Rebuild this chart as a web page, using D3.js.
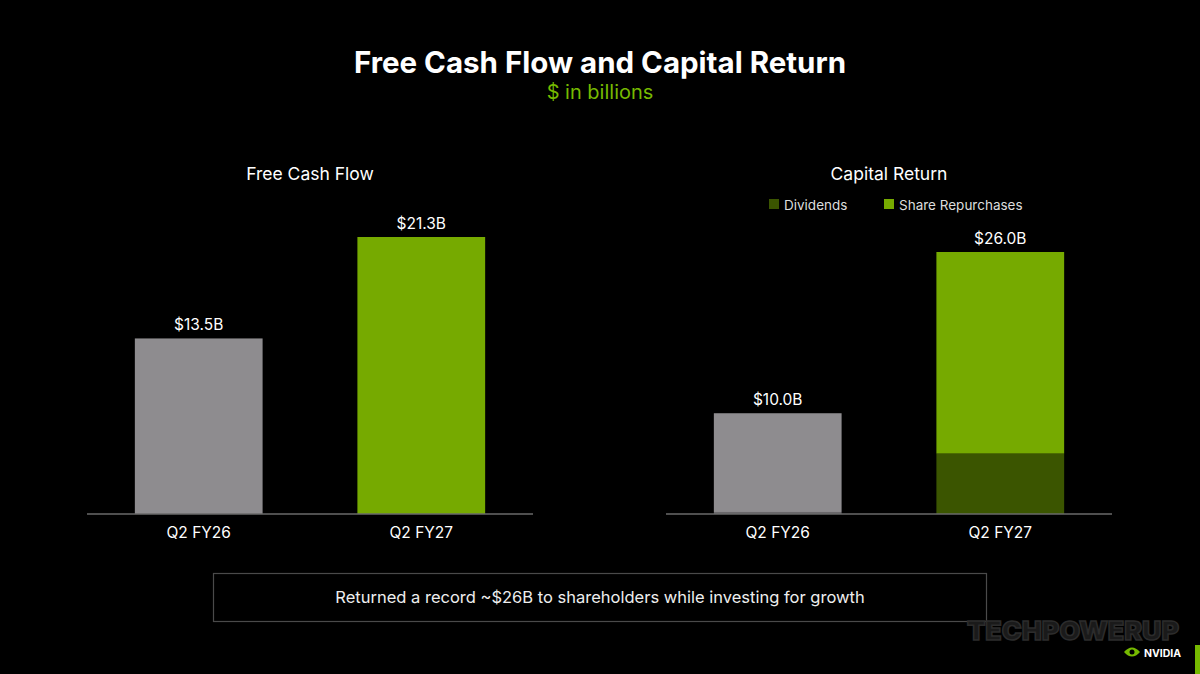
<!DOCTYPE html>
<html><head><meta charset="utf-8">
<script src="https://cdn.jsdelivr.net/npm/d3@7"></script>
<style>
html,body{margin:0;padding:0;background:#000;}
svg{display:block;font-family:Inter,"Noto Sans",sans-serif;}
</style></head>
<body>
<svg id="c" width="1200" height="674"></svg>
<script>
const periods = ["Q2 FY26", "Q2 FY27"];
const fcfValues = [13.5, 21.3];
const fcfLabels = ["$13.5B", "$21.3B"];
const dividends = [0.2, 6.0];
const repurchases = [9.8, 20.0];
const capLabels = ["$10.0B", "$26.0B"];
const legendItems = ["Dividends", "Share Repurchases"];

const svg = d3.select("#c");
const W = 1200, H = 674;
svg.append("rect").attr("width", W).attr("height", H).attr("fill", "#000");

// Titles
svg.append("text").attr("x", 600).attr("y", 73).attr("text-anchor", "middle")
  .attr("fill", "#fff").attr("font-size", 29.5).attr("font-weight", 700)
  .text("Free Cash Flow and Capital Return");
svg.append("text").attr("x", 600).attr("y", 99).attr("text-anchor", "middle")
  .attr("fill", "#76b900").attr("font-size", 20)
  .text("$ in billions");

const baseY = 514;
const green = "#76aa00", grey = "#8e8c8f", darkGreen = "#3b5500", darkGrey = "#6a686b";

function panel(x0, x1, title, titleY) {
  const x = d3.scaleBand().domain(periods).range([x0, x1]).paddingInner(0.426).paddingOuter(0.215);
  const g = svg.append("g");
  g.append("text").attr("x", (x0 + x1) / 2).attr("y", titleY).attr("text-anchor", "middle")
    .attr("fill", "#fff").attr("font-size", 17.5).text(title);
  return {x, g};
}

// Left: Free Cash Flow
const L = panel(87, 533, "Free Cash Flow", 180);
const yL = d3.scaleLinear().domain([0, 21.3]).range([baseY, 237]);
L.g.selectAll("rect.bar").data(periods).join("rect").attr("class", "bar")
  .attr("x", d => L.x(d)).attr("width", L.x.bandwidth())
  .attr("y", (d, i) => yL(fcfValues[i])).attr("height", (d, i) => yL(0) - yL(fcfValues[i]))
  .attr("fill", (d, i) => i === 0 ? grey : green);
L.g.selectAll("text.val").data(periods).join("text").attr("class", "val")
  .attr("x", d => L.x(d) + L.x.bandwidth() / 2).attr("y", (d, i) => yL(fcfValues[i]) - 8)
  .attr("text-anchor", "middle").attr("fill", "#fff").attr("font-size", 15.5)
  .text((d, i) => fcfLabels[i]);
const axL = L.g.append("g").attr("transform", `translate(0,${baseY})`)
  .call(d3.axisBottom(L.x).tickSize(0).tickPadding(13));
axL.select(".domain").attr("stroke", "#6a6a6a").attr("stroke-width", 1.5).attr("d", `M87,0H533`);
axL.selectAll("text").attr("fill", "#fff").attr("font-size", 15.5).attr("font-family", "Inter,'Noto Sans',sans-serif");

// Right: Capital Return
const R = panel(666, 1112, "Capital Return", 180);
const totals = periods.map((d, i) => dividends[i] + repurchases[i]);
const yR = d3.scaleLinear().domain([0, 26.0]).range([baseY, 252]);
const stackData = periods.map((p, i) => ({p, dividends: dividends[i], repurchases: repurchases[i]}));
const stack = d3.stack().keys(["dividends", "repurchases"])(stackData);
R.g.selectAll("g.layer").data(stack).join("g").attr("class", "layer")
  .selectAll("rect").data(d => d.map(v => ({v, key: d.key}))).join("rect")
  .attr("x", d => R.x(d.v.data.p)).attr("width", R.x.bandwidth())
  .attr("y", d => yR(d.v[1])).attr("height", d => yR(d.v[0]) - yR(d.v[1]))
  .attr("fill", d => {
    const first = d.v.data.p === periods[0];
    if (d.key === "dividends") return first ? darkGrey : darkGreen;
    return first ? grey : green;
  });
R.g.selectAll("text.val").data(periods).join("text").attr("class", "val")
  .attr("x", d => R.x(d) + R.x.bandwidth() / 2).attr("y", (d, i) => yR(totals[i]) - 8)
  .attr("text-anchor", "middle").attr("fill", "#fff").attr("font-size", 15.5)
  .text((d, i) => capLabels[i]);
const axR = R.g.append("g").attr("transform", `translate(0,${baseY})`)
  .call(d3.axisBottom(R.x).tickSize(0).tickPadding(13));
axR.select(".domain").attr("stroke", "#6a6a6a").attr("stroke-width", 1.5).attr("d", `M666,0H1112`);
axR.selectAll("text").attr("fill", "#fff").attr("font-size", 15.5).attr("font-family", "Inter,'Noto Sans',sans-serif");

// Legend
const legX = [769, 884];
const legColors = [darkGreen, green];
const leg = svg.append("g");
legendItems.forEach((t, i) => {
  leg.append("rect").attr("x", legX[i]).attr("y", 199).attr("width", 10).attr("height", 10).attr("fill", legColors[i]);
  leg.append("text").attr("x", legX[i] + 15).attr("y", 209.5).attr("fill", "#ddd").attr("font-size", 13.5).text(t);
});

// Callout box
svg.append("rect").attr("x", 213.5).attr("y", 573.5).attr("width", 773).attr("height", 48)
  .attr("fill", "none").attr("stroke", "#4a4a4a").attr("stroke-width", 1.2);
svg.append("text").attr("x", 600).attr("y", 603).attr("text-anchor", "middle")
  .attr("fill", "#eee").attr("font-size", 16.5)
  .text("Returned a record ~$26B to shareholders while investing for growth");

// Watermark
svg.append("text").attr("x", 967).attr("y", 640)
  .attr("fill", "#1a1a1a").attr("stroke", "#2c2c2c").attr("stroke-width", 1.5)
  .attr("font-size", 26).attr("font-weight", 900)
  .attr("textLength", 212).attr("lengthAdjust", "spacingAndGlyphs")
  .text("TECHPOWERUP");

// NVIDIA logo
svg.append("path").attr("d", "M1124,652 q8,-9 16,0 q-8,9 -16,0 z").attr("fill", "#76b900");
svg.append("circle").attr("cx", 1132).attr("cy", 652).attr("r", 2.5).attr("fill", "#000");
svg.append("text").attr("x", 1144).attr("y", 657).attr("fill", "#fff").attr("font-size", 10.5)
  .attr("font-weight", 700).text("NVIDIA");
svg.append("rect").attr("x", 1195).attr("y", 645).attr("width", 5).attr("height", 29).attr("fill", "#76b900");
</script>
</body></html>
